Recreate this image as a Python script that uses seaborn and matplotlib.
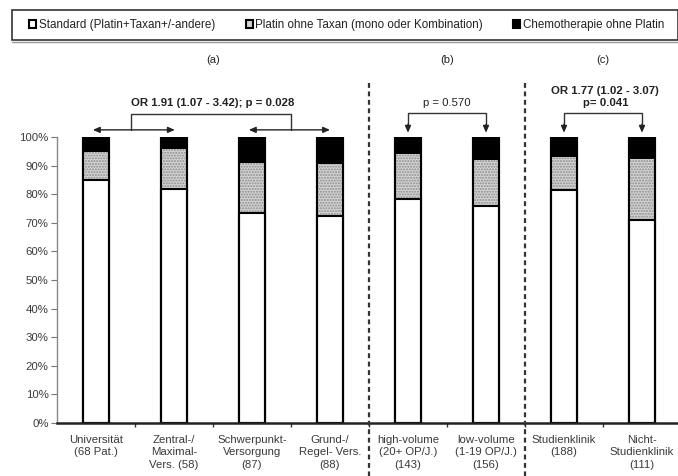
import matplotlib
matplotlib.use("Agg")
import matplotlib.pyplot as plt
from matplotlib.patches import Patch, Rectangle
import numpy as np
import pandas as pd
import seaborn as sns

# --- data -------------------------------------------------------------
categories = [
    "Universität\n(68 Pat.)",
    "Zentral-/\nMaximal-\nVers. (58)",
    "Schwerpunkt-\nVersorgung\n(87)",
    "Grund-/\nRegel- Vers.\n(88)",
    "high-volume\n(20+ OP/J.)\n(143)",
    "low-volume\n(1-19 OP/J.)\n(156)",
    "Studienklinik\n(188)",
    "Nicht-\nStudienklinik\n(111)",
]
standard = [85.0, 82.0, 73.5, 72.5, 78.5, 76.0, 81.5, 71.0]
platin_ohne_taxan = [10.0, 14.0, 17.5, 18.0, 15.5, 16.0, 11.5, 21.5]
chemo_ohne_platin = [5.0, 4.0, 9.0, 9.5, 6.0, 8.0, 7.0, 7.5]

series_names = [
    "Standard (Platin+Taxan+/-andere)",
    "Platin ohne Taxan (mono oder Kombination)",
    "Chemotherapie ohne Platin",
]
group_titles = ["(a)", "(b)", "(c)"]
yticks = [0, 10, 20, 30, 40, 50, 60, 70, 80, 90, 100]

# --- style ------------------------------------------------------------
sns.set_theme(style="white")
plt.rcParams["font.family"] = ["Liberation Sans", "DejaVu Sans"]
plt.rcParams["font.size"] = 8
TXT = "#222222"
TICK_TXT = "#3a3a3a"

df = pd.DataFrame({
    "cat": categories,
    "std": standard,
    "pla": platin_ohne_taxan,
    "che": chemo_ohne_platin,
})
df["lvl_std"] = df["std"]
df["lvl_pla"] = df["std"] + df["pla"]
df["lvl_all"] = df["std"] + df["pla"] + df["che"]

fig = plt.figure(figsize=(6.78, 4.76), dpi=100)
ax = fig.add_axes([57 / 678, 53.3 / 476, 624 / 678, 285.4 / 476])

W = 0.33
# stacked bars: full height in black, then gray, then white on top
sns.barplot(data=df, x="cat", y="lvl_all", color="black", width=W,
            edgecolor="black", linewidth=1.5, saturation=1, ax=ax)
sns.barplot(data=df, x="cat", y="lvl_pla", color="#d4d4d4", width=W,
            edgecolor="#8c8c8c", linewidth=0, hatch="......",
            saturation=1, ax=ax)
sns.barplot(data=df, x="cat", y="lvl_std", color="white", width=W,
            edgecolor="black", linewidth=1.5, saturation=1, ax=ax)
sns.barplot(data=df, x="cat", y="lvl_all", fill=False, width=W,
            edgecolor="black", linewidth=1.5, ax=ax)

ax.set_xlim(-0.5, 7.5)
ax.set_ylim(0, 100)
ax.set_xlabel("")
ax.set_ylabel("")

ax.set_yticks(yticks)
ax.set_yticklabels([f"{v}%" for v in yticks], color=TICK_TXT, fontsize=8.2)
ax.tick_params(axis="y", which="major", direction="out", length=4,
               width=0.8, color="#777777", pad=2, left=True)

ax.set_xticks(range(len(categories)))
ax.set_xticklabels(categories, color=TICK_TXT, linespacing=1.28,
                   fontsize=8.2)
ax.tick_params(axis="x", which="major", length=0, pad=9)
ax.set_xticks(np.arange(0.5, 7.5, 1.0), minor=True)
ax.tick_params(axis="x", which="minor", direction="out", length=3,
               width=1, color="#333333", bottom=True)

for s in ["top", "right"]:
    ax.spines[s].set_visible(False)
ax.spines["left"].set_color("#888888")
ax.spines["left"].set_linewidth(1.0)
ax.spines["bottom"].set_color("#222222")
ax.spines["bottom"].set_linewidth(1.8)

# group separators
for xs in [3.5, 5.5]:
    ax.plot([xs, xs], [119, -19], color="#333333", lw=1.6,
            dashes=(2.2, 1.6), clip_on=False, zorder=5)

# group titles, centred over each group
for xt, t in zip([1.5, 4.5, 6.5], group_titles):
    ax.text(xt, 127, t, ha="center", va="center", color=TXT, fontsize=8,
            clip_on=False)

line_kw = dict(color="#333333", lw=1.0, clip_on=False)
arrow_kw = dict(arrowstyle="-|>,head_length=0.5,head_width=0.22",
                color="#222222", lw=1.0, shrinkA=0, shrinkB=0)
dbl_kw = dict(arrowstyle="<|-|>,head_length=0.5,head_width=0.22",
              color="#222222", lw=1.0, shrinkA=0, shrinkB=0)

# (a) comparison
ya, yb = 102.6, 108.2
ax.annotate("", xy=(-0.04, ya), xytext=(1.01, ya), arrowprops=dbl_kw,
            annotation_clip=False)
ax.annotate("", xy=(1.96, ya), xytext=(3.0, ya), arrowprops=dbl_kw,
            annotation_clip=False)
ax.plot([0.45, 0.45, 2.5, 2.5], [ya, yb, yb, ya], **line_kw)
ax.text(1.5, 112.1, "OR 1.91 (1.07 - 3.42); p = 0.028", ha="center",
        va="center", fontweight="bold", color=TXT, fontsize=8.2,
        clip_on=False)

# (b) comparison
yb2 = 108.6
ax.plot([4, 4, 5, 5], [104.5, yb2, yb2, 104.5], **line_kw)
for xx in [4, 5]:
    ax.annotate("", xy=(xx, 101.6), xytext=(xx, 104.6), arrowprops=arrow_kw,
                annotation_clip=False)
ax.text(4.5, 112.1, "p = 0.570", ha="center", va="center", color=TXT,
        fontsize=8.2, clip_on=False)

# (c) comparison
ax.plot([6, 6, 7, 7], [104.5, yb2, yb2, 104.5], **line_kw)
for xx in [6, 7]:
    ax.annotate("", xy=(xx, 101.6), xytext=(xx, 104.6), arrowprops=arrow_kw,
                annotation_clip=False)
ax.text(6.53, 116.3, "OR 1.77 (1.02 - 3.07)", ha="center", va="center",
        fontweight="bold", color=TXT, fontsize=8.2, clip_on=False)
ax.text(6.53, 111.9, "p= 0.041", ha="center", va="center",
        fontweight="bold", color=TXT, fontsize=8.2, clip_on=False)

# legend: entries packed from the left inside a full-width frame
fig.patches.append(Rectangle((12 / 678, 1 - 40 / 476), 666 / 678, 30 / 476,
                             transform=fig.transFigure, fill=False,
                             edgecolor="#333333", linewidth=1.2))
fig.lines.append(plt.Line2D([12 / 678, 1], [1 - 41.5 / 476] * 2,
                            transform=fig.transFigure, color="#999999",
                            lw=1.0))
handles = [
    Patch(facecolor="white", edgecolor="black", linewidth=1.5),
    Patch(facecolor="#d4d4d4", edgecolor="black", linewidth=1.5),
    Patch(facecolor="black", edgecolor="black", linewidth=1.5),
]
leg = fig.legend(handles, series_names, ncol=3, loc="center left",
                 bbox_to_anchor=(29 / 678, 1 - 25 / 476),
                 frameon=False, handlelength=0.6, handleheight=0.6,
                 handletextpad=0.25, columnspacing=2.6, borderpad=0,
                 fontsize=8.4, labelcolor=TXT, borderaxespad=0)

fig.savefig("out.png", dpi=100, facecolor="white")
